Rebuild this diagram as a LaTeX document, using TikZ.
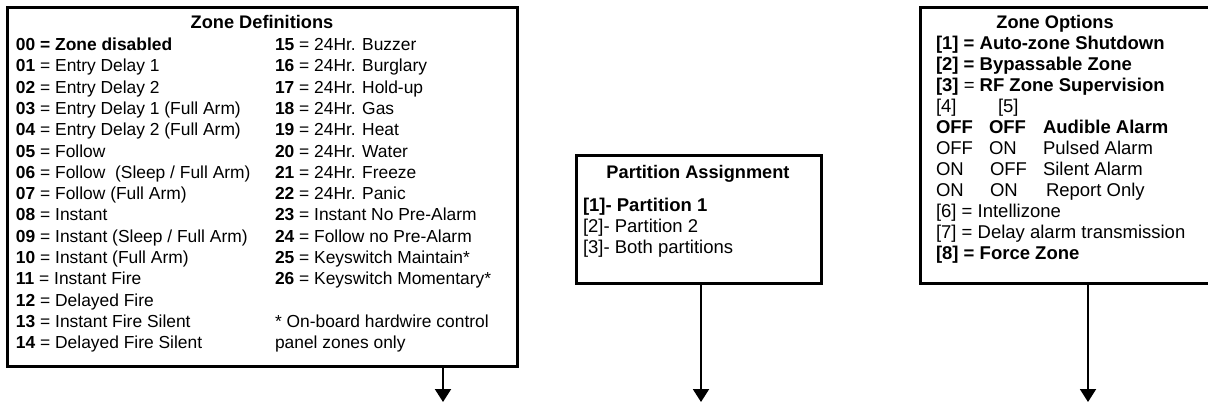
\documentclass[tikz,border=0pt]{standalone}
\usepackage{fontspec}
\setmainfont{Liberation Sans}
\usetikzlibrary{arrows.meta}
\tikzset{
  boxframe/.style={draw=black, line width=1.5pt, rectangle, inner sep=0pt, outer sep=0pt},
  ltxt/.style={anchor=base west, inner sep=0pt, outer sep=0pt, font=\fontsize{8.7}{10}\selectfont},
  rtxt/.style={anchor=base west, inner sep=0pt, outer sep=0pt, font=\fontsize{9.25}{10}\selectfont},
  ttl/.style={anchor=base, inner sep=0pt, outer sep=0pt, font=\fontsize{9.1}{10}\selectfont\bfseries},
  flow/.style={line width=1pt, -{Triangle[width=8pt,length=6.5pt]}}
}
\begin{document}
\begin{tikzpicture}[x=0.5pt,y=-0.5pt]
\useasboundingbox (0,0) rectangle (1208,404);
% boxes
\node[boxframe, minimum width=255pt, minimum height=179.5pt] (zdef) at (262,186.5) {};
\node[boxframe, minimum width=122.5pt, minimum height=64pt] (part) at (698.5,219) {};
\node[boxframe, minimum width=147.5pt, minimum height=138pt] (zopt) at (1067.5,145) {};
% Zone definitions
\node[ttl] (zdt) at (262,28.5) {Zone Definitions};
\def\ry#1{50.5+21.3*#1}
\node[ltxt] (l00) at (16,{\ry{0}}) {\textbf{00 = Zone disabled}};
\node[ltxt] (l01) at (16,{\ry{1}}) {\textbf{01} = Entry Delay 1};
\node[ltxt] (l02) at (16,{\ry{2}}) {\textbf{02} = Entry Delay 2};
\node[ltxt] (l03) at (16,{\ry{3}}) {\textbf{03} = Entry Delay 1 (Full Arm)};
\node[ltxt] (l04) at (16,{\ry{4}}) {\textbf{04} = Entry Delay 2 (Full Arm)};
\node[ltxt] (l05) at (16,{\ry{5}}) {\textbf{05} = Follow};
\node[ltxt] (l06) at (16,{\ry{6}}) {\textbf{06} = Follow\ \ (Sleep / Full Arm)};
\node[ltxt] (l07) at (16,{\ry{7}}) {\textbf{07} = Follow (Full Arm)};
\node[ltxt] (l08) at (16,{\ry{8}}) {\textbf{08} = Instant};
\node[ltxt] (l09) at (16,{\ry{9}}) {\textbf{09} = Instant (Sleep / Full Arm)};
\node[ltxt] (l10) at (16,{\ry{10}}) {\textbf{10} = Instant (Full Arm)};
\node[ltxt] (l11) at (16,{\ry{11}}) {\textbf{11} = Instant Fire};
\node[ltxt] (l12) at (16,{\ry{12}}) {\textbf{12} = Delayed Fire};
\node[ltxt] (l13) at (16,{\ry{13}}) {\textbf{13} = Instant Fire Silent};
\node[ltxt] (l14) at (16,{\ry{14}}) {\textbf{14} = Delayed Fire Silent};
\node[ltxt] (l15) at (275,{\ry{0}}) {\textbf{15} = 24Hr. Buzzer};
\node[ltxt] (l16) at (275,{\ry{1}}) {\textbf{16} = 24Hr. Burglary};
\node[ltxt] (l17) at (275,{\ry{2}}) {\textbf{17} = 24Hr. Hold-up};
\node[ltxt] (l18) at (275,{\ry{3}}) {\textbf{18} = 24Hr. Gas};
\node[ltxt] (l19) at (275,{\ry{4}}) {\textbf{19} = 24Hr. Heat};
\node[ltxt] (l20) at (275,{\ry{5}}) {\textbf{20} = 24Hr. Water};
\node[ltxt] (l21) at (275,{\ry{6}}) {\textbf{21} = 24Hr. Freeze};
\node[ltxt] (l22) at (275,{\ry{7}}) {\textbf{22} = 24Hr. Panic};
\node[ltxt] (l23) at (275,{\ry{8}}) {\textbf{23} = Instant No Pre-Alarm};
\node[ltxt] (l24) at (275,{\ry{9}}) {\textbf{24} = Follow no Pre-Alarm};
\node[ltxt] (l25) at (275,{\ry{10}}) {\textbf{25} = Keyswitch Maintain*};
\node[ltxt] (l26) at (275,{\ry{11}}) {\textbf{26} = Keyswitch Momentary*};
\node[ltxt] (note1) at (275,{\ry{13}}) {* On-board hardwire control};
\node[ltxt] (note2) at (275,{\ry{14}}) {panel zones only};
% Partition assignment
\node[ttl] (pat) at (698,178.5) {Partition Assignment};
\node[rtxt] (p1) at (583,211.5) {\textbf{[1]- Partition 1}};
\node[rtxt] (p2) at (583,232.5) {[2]- Partition 2};
\node[rtxt] (p3) at (583,253.5) {[3]- Both partitions};
% Zone options
\node[ttl] (zot) at (1055,28.5) {Zone Options};
\def\oy#1{49.5+21*#1}
\node[rtxt] (o1) at (936,{\oy{0}}) {\textbf{[1] = Auto-zone Shutdown}};
\node[rtxt] (o2) at (936,{\oy{1}}) {\textbf{[2] = Bypassable Zone}};
\node[rtxt] (o3) at (936,{\oy{2}}) {\textbf{[3]} = \textbf{RF Zone Supervision}};
\node[rtxt] (o4) at (936,{\oy{3}}) {[4]};
\node[rtxt] (o5) at (998,{\oy{3}}) {[5]};
\node[rtxt] (a1) at (936,{\oy{4}}) {\textbf{OFF}};
\node[rtxt] (a2) at (989,{\oy{4}}) {\textbf{OFF}};
\node[rtxt] (a3) at (1043,{\oy{4}}) {\textbf{Audible Alarm}};
\node[rtxt] (b1) at (936,{\oy{5}}) {OFF};
\node[rtxt] (b2) at (989,{\oy{5}}) {ON};
\node[rtxt] (b3) at (1043,{\oy{5}}) {Pulsed Alarm};
\node[rtxt] (c1) at (936,{\oy{6}}) {ON};
\node[rtxt] (c2) at (990,{\oy{6}}) {OFF};
\node[rtxt] (c3) at (1043,{\oy{6}}) {Silent Alarm};
\node[rtxt] (d1) at (936,{\oy{7}}) {ON};
\node[rtxt] (d2) at (990,{\oy{7}}) {ON};
\node[rtxt] (d3) at (1046,{\oy{7}}) {Report Only};
\node[rtxt] (o6) at (936,{\oy{8}}) {[6] = Intellizone};
\node[rtxt] (o7) at (936,{\oy{9}}) {[7] = Delay alarm transmission};
\node[rtxt] (o8) at (936,{\oy{10}}) {\textbf{[8] = Force Zone}};
% arrows
\coordinate (e1) at (443,402);
\coordinate (e2) at (701,402);
\coordinate (e3) at (1088,402);
\draw[flow] (zdef.south -| e1) -- (e1);
\draw[flow] (part.south -| e2) -- (e2);
\draw[flow] (zopt.south -| e3) -- (e3);
\end{tikzpicture}
\end{document}
